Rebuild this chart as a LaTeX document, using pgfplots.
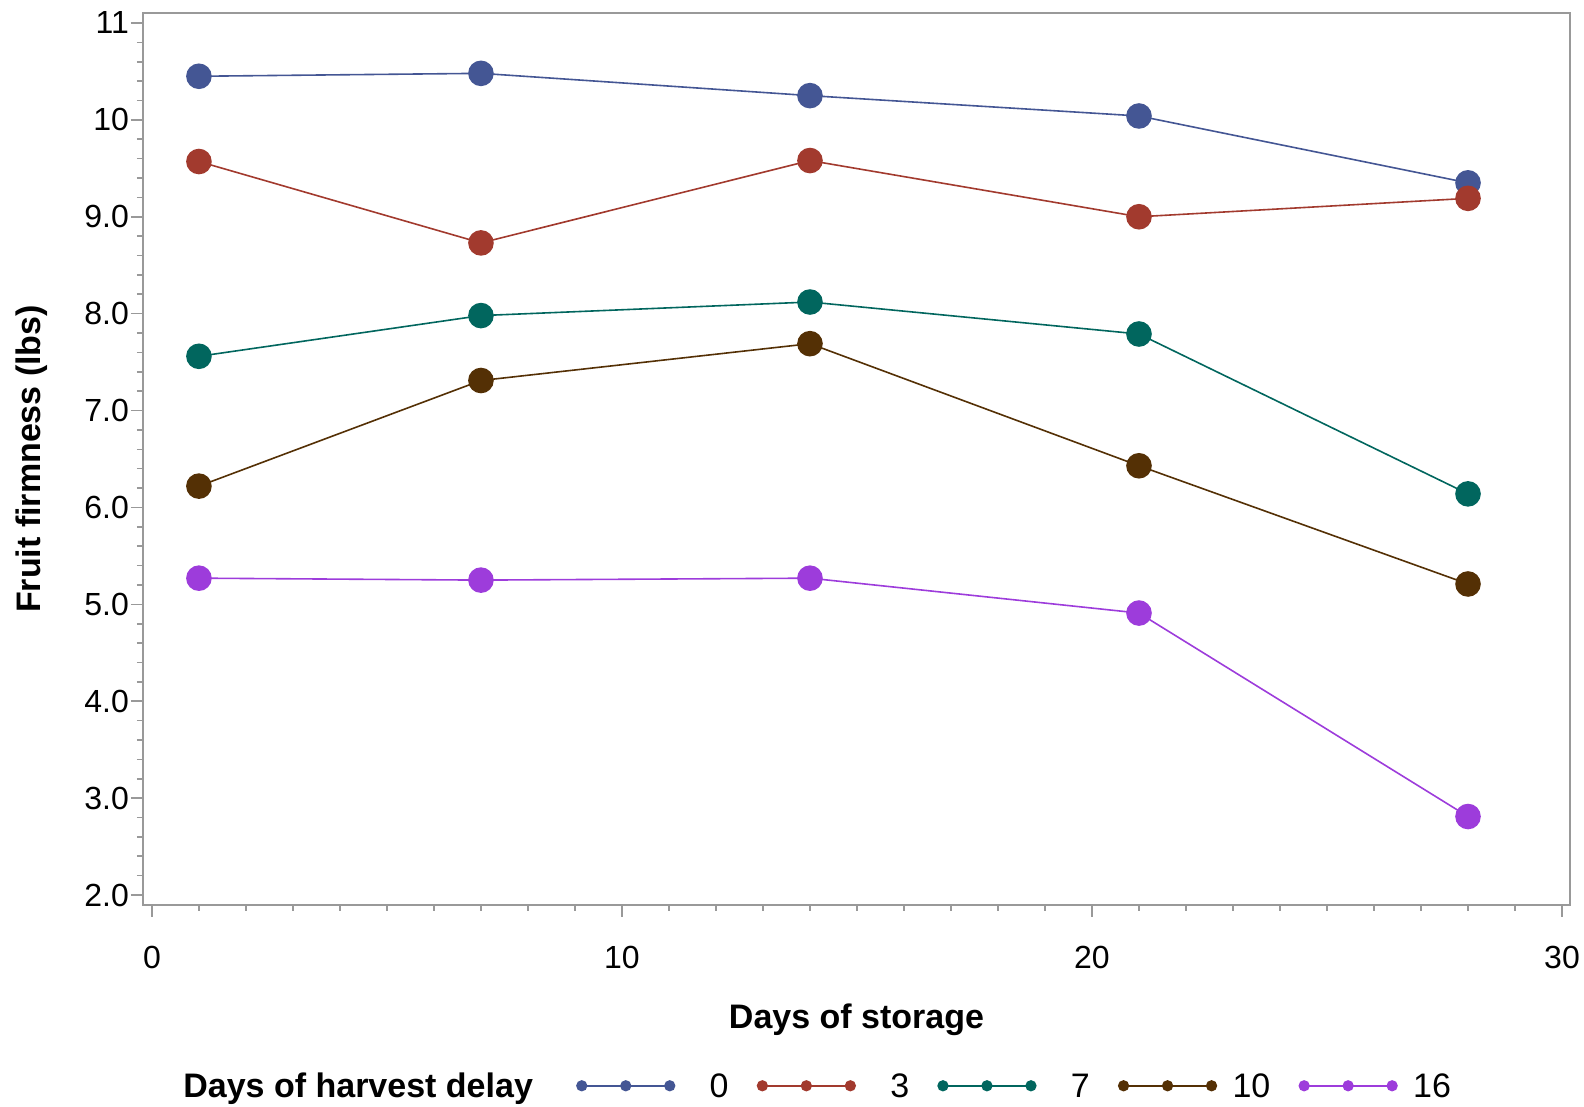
\documentclass[border=0pt]{standalone}
\usepackage{fontspec}
\setmainfont{Liberation Sans}
\usepackage{pgfplots}
\pgfplotsset{compat=1.18}
\definecolor{gdA}{HTML}{445694}
\definecolor{gdB}{HTML}{A23A2E}
\definecolor{gdC}{HTML}{01665E}
\definecolor{gdD}{HTML}{543005}
\definecolor{gdE}{HTML}{9D3CDB}
\begin{document}
\begin{tikzpicture}
\begin{axis}[
  at={(71.5pt,101pt)}, anchor=south west,
  width=713.5pt, height=446pt, scale only axis,
  xmin=-0.19, xmax=30.17, ymin=1.897, ymax=11.103,
  xtick={0,10,20,30}, ytick={2,3,...,11},
  yticklabels={2.0,3.0,4.0,5.0,6.0,7.0,8.0,9.0,10,11},
  minor x tick num=9, minor y tick num=4,
  tick align=outside,
  major tick length=6pt, minor tick length=3pt,
  axis line style={gray!80, line width=0.8pt},
  every tick/.style={gray!80, line width=0.8pt},
  xtick pos=bottom, ytick pos=left,
  ticklabel style={font=\fontsize{16}{18}\selectfont},
  /pgf/number format/assume math mode=true,
  xticklabel style={yshift=-11pt},
  yticklabel style={xshift=2.5pt},
  xlabel={Days of storage},
  ylabel={Fruit firmness (lbs)},
  label style={font=\fontsize{17}{20}\selectfont\bfseries},
  xlabel style={at={(axis description cs:0.5,-0.129)}, anchor=center},
  ylabel style={at={(axis description cs:-0.078,0.5)}, anchor=center},
  every axis plot/.append style={line width=0.8pt, mark=*, mark size=6pt},
  legend columns=-1,
  legend style={at={(axis description cs:0.028,-0.204)}, anchor=west,
    draw=none, fill=none, inner sep=0pt,
    font=\fontsize{17}{20}\selectfont,
    nodes={inner sep=0pt, anchor=base west}, column sep=0pt},
  legend image code/.code={\draw[#1, mark size=2.4pt] plot coordinates {(0pt,6pt) (22pt,6pt) (44pt,6pt)};},
]
\addlegendimage{empty legend}
\addlegendentry{\textbf{Days of harvest delay}\kern22pt}
\addplot[color=gdA, mark options={fill=gdA, draw=gdA}] coordinates {(1,10.45) (7,10.48) (14,10.25) (21,10.04) (28,9.35)};
\addlegendentry{\makebox[27pt][r]{0}\kern14.5pt}
\addplot[color=gdB, mark options={fill=gdB, draw=gdB}] coordinates {(1,9.57) (7,8.73) (14,9.58) (21,9.00) (28,9.19)};
\addlegendentry{\makebox[27pt][r]{3}\kern14.5pt}
\addplot[color=gdC, mark options={fill=gdC, draw=gdC}] coordinates {(1,7.56) (7,7.98) (14,8.12) (21,7.79) (28,6.14)};
\addlegendentry{\makebox[27pt][r]{7}\kern14.5pt}
\addplot[color=gdD, mark options={fill=gdD, draw=gdD}] coordinates {(1,6.22) (7,7.31) (14,7.69) (21,6.43) (28,5.21)};
\addlegendentry{\makebox[27pt][r]{10}\kern14.5pt}
\addplot[color=gdE, mark options={fill=gdE, draw=gdE}] coordinates {(1,5.27) (7,5.25) (14,5.27) (21,4.91) (28,2.81)};
\addlegendentry{\makebox[27pt][r]{16}}
\end{axis}
\pgfresetboundingbox
\path[use as bounding box] (0,0) rectangle (792pt,553.5pt);
\end{tikzpicture}
\end{document}
